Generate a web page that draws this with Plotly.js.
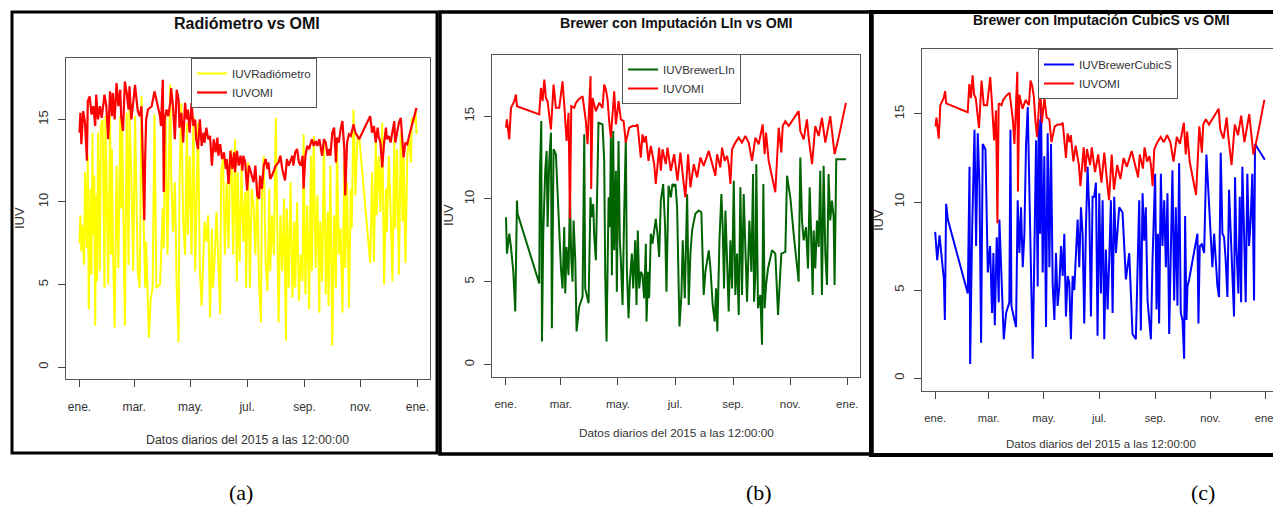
<!DOCTYPE html>
<html>
<head>
<meta charset="utf-8">
<script src="https://cdn.plot.ly/plotly-3.0.1.min.js"></script>
<style>
html,body{margin:0;padding:0;background:#fff;overflow:hidden;}
#chart{width:1290px;height:506px;}
</style>
</head>
<body>
<div id="chart"></div>
<script>
// ---------- DATA (day of year 2015, 0 = 1 Jan) ----------
const monthLabels = ['ene.','mar.','may.','jul.','sep.','nov.','ene.'];
const monthDays   = [0,59,120,181,243,304,365];
const yTicks = [0,5,10,15];

// Panel (a): OMI
const omiADays = [0,1,2,4,6,8,9,11,13,15,
 17,18,20,22,24,27,29,31,33,35,
 36,38,40,42,44,45,47,49,51,53,
 54,56,58,60,62,63,65,67,68,69,
 70,71,72,74,78,81,84,87,88,90,
 91,92,94,96,98,99,101,103,105,107,
 108,110,112,114,116,117,119,121,123,125,
 126,128,130,132,134,135,137,139,141,143,
 145,147,149,150,152,154,156,158,159,161,
 163,165,167,168,170,172,174,176,177,179,
 181,183,186,188,190,192,194,195,197,199,
 201,203,204,206,208,212,215,217,219,222,
 224,226,230,231,233,235,237,239,241,242,
 244,246,248,250,251,253,255,257,259,260,
 262,264,266,268,269,271,273,275,277,278,
 280,282,284,286,287,289,291,293,295,296,
 298,302,314,316,318,320,322,323,325,327,
 329,331,332,334,336,338,340,341,343,345,
 347,349,350,352,354,356,359,364];
const omiAVals = [14.2,15.4,13.5,15.5,14.8,12.5,16.1,16.4,15.3,15.8,
 14.6,16.5,15.0,15.8,15.1,16.5,15.8,13.8,16.7,15.2,
 16.6,15.0,17.2,15.8,16.8,15.2,14.3,17.3,16.6,15.6,
 17.0,15.0,16.0,17.1,16.0,15.5,15.2,15.8,13.4,10.6,
 8.9,12.8,15.0,15.6,15.8,16.7,16.0,15.2,14.6,17.4,
 10.6,15.0,15.6,15.2,16.0,16.9,15.8,13.8,16.8,16.2,
 14.5,15.4,13.6,16.0,15.0,15.6,14.2,16.0,14.6,15.0,
 13.8,13.2,15.0,13.4,14.2,13.6,14.5,13.8,14.0,12.2,
 13.8,13.0,13.9,12.8,13.5,12.6,13.0,12.0,12.6,11.1,
 13.1,12.0,13.0,11.8,13.1,12.2,12.8,11.9,12.8,12.4,
 10.7,12.2,11.6,11.2,12.2,10.4,10.2,11.6,10.8,12.2,
 12.6,12.0,12.4,11.4,11.6,12.2,12.4,12.8,12.0,11.3,
 12.6,12.2,12.8,12.2,13.0,13.2,12.4,12.2,12.8,10.8,
 12.8,13.4,13.2,13.6,13.8,13.4,13.7,13.4,13.8,13.5,
 12.8,13.8,13.6,12.8,13.2,12.8,14.2,14.5,12.4,13.9,
 13.6,14.4,14.9,13.2,10.4,13.6,14.1,14.0,14.5,14.7,
 14.2,13.8,15.2,14.2,14.6,13.6,14.5,14.0,13.6,12.1,
 13.6,14.5,13.8,14.0,13.6,14.4,14.9,13.6,14.2,14.8,
 15.1,13.6,12.7,13.6,13.5,14.0,14.6,15.7];

// Panel (a): Radiómetro
const radDays = [0,1,2,3,5,6,8,9,10,12,
 13,14,15,16,17,18,19,20,22,23,
 25,27,28,30,31,33,34,35,36,38,
 40,42,44,45,46,48,49,51,53,54,
 56,58,60,62,63,65,67,69,71,72,
 74,75,77,79,81,83,87,90,91,93,
 95,96,98,99,101,103,105,107,108,110,
 112,114,116,117,119,121,123,125,126,128,
 130,132,134,135,137,139,141,143,144,146,
 148,150,152,153,155,157,159,161,162,164,
 166,168,170,171,173,175,177,179,180,182,
 184,186,188,190,192,194,196,197,199,201,
 203,205,206,208,210,212,214,215,217,219,
 221,223,224,226,228,230,232,233,235,237,
 239,241,242,244,246,248,250,251,253,255,
 257,259,260,262,264,266,268,269,271,273,
 275,277,278,280,282,284,286,287,289,291,
 293,294,296,298,300,302,314,316,318,320,
 321,323,325,327,329,331,332,334,336,338,
 340,341,343,345,347,349,350,352,354,356,
 358,359,361,363,364];
const radVals = [7.5,9.2,7.0,8.6,6.2,11.8,7.2,12.8,3.5,10.8,
 5.6,14.2,8.0,11.6,2.5,10.4,5.2,14.2,5.8,14.6,
 15.0,4.8,15.2,8.4,5.0,15.2,6.8,13.2,7.6,2.4,
 12.2,6.0,15.2,9.6,14.8,6.8,2.5,15.4,6.2,15.6,
 11.6,5.8,15.2,8.8,5.8,4.8,16.4,9.4,4.8,7.6,
 3.3,1.8,4.2,4.8,15.3,4.8,5.0,9.6,7.2,15.2,
 6.8,9.8,17.1,11.8,8.2,11.2,4.9,1.5,10.8,16.0,
 8.8,6.8,14.8,8.0,12.8,6.8,15.2,5.8,9.4,14.8,
 5.8,3.7,7.0,8.8,7.6,9.2,3.0,8.4,4.8,6.6,
 9.4,5.8,3.2,11.8,12.6,6.8,11.2,7.2,10.8,13.2,
 6.8,13.8,5.2,11.8,6.4,12.2,7.6,10.6,4.8,12.4,
 4.8,10.8,9.8,6.8,11.2,5.0,2.7,10.4,12.8,6.4,
 4.6,10.8,5.8,9.2,6.8,15.1,6.0,2.7,9.2,5.8,
 10.2,1.6,9.6,4.8,11.2,4.2,8.8,4.8,10.0,4.0,
 6.8,5.2,14.1,4.4,9.8,3.5,12.8,5.8,14.0,6.0,
 10.4,3.3,8.8,5.2,13.6,4.4,9.4,3.7,12.2,1.3,
 9.2,4.8,13.8,6.8,8.4,3.3,12.4,6.0,11.2,3.6,
 10.8,8.4,15.6,10.4,13.8,14.0,6.3,11.8,6.4,13.8,
 9.2,12.8,9.4,14.8,5.0,10.8,8.2,12.8,9.6,5.2,
 13.8,8.4,13.2,5.6,14.2,8.8,13.4,6.3,12.8,13.8,
 12.4,15.1,14.8,15.5,14.1];

// Panels (b) and (c): OMI
const omiBDays = [0.4,1.4,3.9,5.7,9.3,11.0,12.1,35.9,37.7,39.5,
 41.3,43.0,44.8,46.6,48.4,51.2,53.7,57.3,60.8,62.6,
 65.1,67.2,68.7,70.1,73.3,75.1,77.9,82.2,85.7,87.5,
 89.3,90.7,91.4,92.9,96.4,100.0,103.5,105.3,107.1,108.9,
 110.6,112.4,114.2,116.0,117.8,120.6,123.1,126.0,128.4,132.0,
 135.5,139.1,140.9,142.7,144.4,146.2,148.0,149.8,152.6,155.1,
 158.7,160.4,164.0,165.8,167.6,171.1,172.9,176.5,180.0,183.6,
 186.7,190.3,192.0,194.9,197.4,201.0,204.5,208.1,211.6,217.0,
 220.5,224.1,225.9,229.4,231.2,234.0,236.5,238.3,240.1,241.9,
 245.4,249.0,252.5,256.1,259.7,263.2,266.8,270.3,274.6,276.7,
 278.2,281.0,288.1,291.7,294.5,296.0,298.8,302.4,313.0,314.8,
 318.4,321.9,323.7,327.3,330.8,334.4,337.9,341.5,346.8,348.6,
 351.4,355.7,363.5];
const omiBVals = [14.3,14.8,13.6,15.5,15.9,16.3,15.6,15.1,16.7,15.9,
 17.2,16.1,15.9,15.0,14.2,16.9,15.5,15.5,17.1,15.7,
 13.5,15.2,8.8,15.6,15.5,15.8,16.0,16.2,14.7,13.3,
 15.4,17.4,10.6,16.1,15.3,15.8,15.5,16.9,16.6,16.0,
 14.7,13.7,15.1,16.5,14.5,15.9,14.8,14.7,13.4,14.3,
 14.4,14.4,14.5,13.3,12.5,13.9,13.4,13.8,12.3,13.2,
 12.1,10.9,13.1,11.7,13.0,12.1,13.1,11.7,12.7,11.1,
 12.8,10.9,10.1,12.7,10.7,12.1,11.3,12.5,12.0,12.9,
 12.1,11.4,12.7,11.9,13.1,12.3,12.6,12.1,10.9,13.0,
 13.4,13.7,13.4,13.8,13.4,12.3,13.7,13.3,14.5,12.7,
 14.0,12.3,10.4,14.3,12.8,14.4,14.7,14.4,15.3,14.1,
 13.6,14.8,13.7,12.1,14.4,13.8,14.9,13.4,15.0,14.2,
 12.7,13.7,15.8];

// Panel (b): Brewer, linear imputation
const linDays = [0.4,1.4,3.9,5.7,8.2,10.3,12.1,12.8,35.9,36.6,
 38.1,38.8,40.2,42.3,43.8,44.8,46.6,48.4,49.4,51.2,
 53.7,55.5,57.3,59.1,60.8,62.6,63.7,65.1,67.2,68.7,
 70.1,71.5,72.6,74.4,75.8,78.6,82.2,84.0,85.0,88.6,
 90.7,91.8,93.6,94.6,96.4,99.2,103.5,105.3,106.4,107.8,
 110.0,111.4,112.4,113.5,114.9,116.0,117.8,118.8,120.6,122.0,
 123.1,124.9,126.7,128.4,129.5,131.3,132.7,134.8,136.3,138.4,
 139.8,141.2,142.7,144.4,146.2,148.0,149.8,150.5,152.3,153.3,
 155.1,156.9,160.4,162.2,164.0,165.8,168.3,170.4,171.8,174.0,
 176.5,178.2,180.0,181.4,183.2,185.7,187.8,189.2,191.4,193.9,
 195.6,197.4,199.2,202.7,206.3,209.1,211.6,213.4,217.0,218.8,
 221.2,223.4,224.8,226.2,228.4,230.5,231.9,233.3,234.8,236.5,
 238.3,240.1,241.9,243.7,245.4,247.2,249.0,250.8,252.5,254.3,
 256.1,257.9,260.4,262.5,264.3,265.4,266.8,267.8,269.6,272.1,
 273.9,275.3,276.7,278.2,280.3,284.6,288.1,291.0,294.5,298.8,
 300.6,304.1,307.7,311.2,313.0,314.8,316.6,318.4,320.9,323.0,
 324.8,326.5,328.0,329.0,330.8,332.6,334.4,336.1,337.9,339.7,
 341.5,343.3,345.0,346.8,348.6,350.4,351.4,353.2,363.5];
const linVals = [8.9,6.7,7.9,7.1,5.6,3.2,9.9,9.1,4.9,11.5,
 14.7,1.4,7.9,11.7,12.9,8.3,12.3,14.0,2.2,13.0,
 12.7,10.3,8.1,5.8,4.6,8.3,4.3,7.1,5.4,10.3,
 6.4,5.0,8.7,6.3,2.0,3.5,4.1,13.9,4.6,3.7,
 10.1,8.9,9.7,7.8,6.3,14.6,14.5,12.3,5.4,1.4,
 10.1,8.3,13.7,5.4,14.1,6.9,11.7,4.4,13.5,7.5,
 6.3,3.6,9.3,13.6,5.8,2.8,5.0,6.7,4.6,7.5,
 3.6,8.1,4.6,5.6,5.4,4.0,7.3,2.6,5.6,4.0,
 7.9,7.3,8.8,7.9,6.5,9.9,10.9,8.3,4.4,10.8,
 10.1,10.9,10.8,10.9,9.5,2.3,4.2,7.5,4.0,10.3,
 3.6,6.7,8.1,9.1,9.3,9.2,4.2,5.6,6.9,5.8,
 3.6,2.6,4.6,2.0,7.5,10.3,8.3,4.6,9.3,6.2,
 3.2,7.5,4.6,11.1,4.2,6.7,3.0,10.7,4.2,10.3,
 6.7,3.8,8.7,5.6,11.5,3.8,5.4,12.1,3.4,4.2,
 1.2,10.9,3.4,4.8,5.8,6.9,6.7,3.0,6.7,6.8,
 11.4,10.1,7.9,5.9,5.0,12.5,8.7,7.5,8.3,5.8,
 10.7,7.5,4.2,8.1,5.8,8.7,7.1,11.7,4.2,12.0,
 6.7,4.8,11.5,8.7,9.9,8.9,4.8,12.4,12.4];

// Panel (c): Brewer, cubic spline imputation
const cubDays = [0,2.2,4.8,6.6,9.6,10.7,12.1,14.0,36.0,37.9,
 38.6,40.8,43.4,45.2,47.0,48.9,50.7,52.5,55.5,58.1,
 60.6,62.8,64.3,65.8,68.0,70.2,70.9,73.9,75.7,78.3,
 81.9,83.1,84.2,87.5,89.3,91.1,93.0,94.8,96.7,98.5,
 100.3,102.2,104.0,105.8,107.7,109.5,111.4,113.2,114.3,115.8,
 116.9,118.7,120.5,122.4,124.2,126.1,127.9,129.7,131.6,133.4,
 135.2,137.1,138.9,140.8,142.6,144.4,146.3,148.1,149.9,151.8,
 153.6,155.5,157.3,159.1,161.0,162.8,164.6,166.5,168.3,170.2,
 172.0,173.8,175.7,177.5,179.3,181.2,183.0,184.9,186.7,188.5,
 190.4,192.2,194.0,195.9,197.7,199.6,203.2,206.9,210.6,214.3,
 217.9,221.6,223.5,225.3,227.1,229.0,230.8,232.6,234.5,236.3,
 238.2,240.0,241.8,242.9,244.4,245.9,247.3,249.2,251.0,252.9,
 254.7,256.5,258.4,260.2,262.0,263.9,265.7,267.5,269.4,271.2,
 273.1,274.9,276.0,277.5,278.6,280.4,289.6,290.7,292.2,294.4,
 297.0,299.5,302.5,306.1,308.0,311.7,313.5,315.3,317.2,319.0,
 320.8,322.7,324.5,326.3,328.2,330.0,331.1,332.6,334.8,336.3,
 337.8,339.2,341.1,342.9,344.7,346.6,348.4,350.2,352.1,353.2,
 364];
const cubVals = [8.3,6.7,8.1,7.1,5.6,3.3,9.9,9.0,4.8,12.0,
 0.8,8.4,14.1,7.5,13.9,10.9,2.0,13.3,13.0,6.0,
 7.5,3.7,7.1,3.0,8.0,4.3,9.0,4.8,2.2,3.7,
 4.3,14.1,4.1,3.3,2.9,10.1,7.1,9.7,6.3,8.2,
 13.2,15.4,10.9,4.8,1.1,7.1,13.5,5.2,14.7,8.2,
 15.4,6.0,12.6,2.9,13.9,6.3,13.3,5.4,3.3,7.1,
 4.1,5.2,7.5,5.8,8.2,3.5,5.8,5.4,2.2,5.8,
 5.0,7.1,9.0,6.3,9.7,8.2,3.1,8.6,12.0,9.4,
 3.5,10.3,10.3,11.1,2.4,10.5,4.8,10.1,2.2,7.3,
 3.9,6.7,10.1,3.7,10.3,7.1,9.7,9.4,5.6,7.1,
 2.5,2.2,7.1,10.1,2.7,10.5,7.8,9.7,4.4,3.3,
 2.2,6.7,10.9,11.6,3.9,8.2,3.1,11.6,7.5,10.1,
 6.3,10.5,2.5,6.3,11.8,4.4,9.7,4.1,12.2,3.7,
 3.3,1.1,9.2,3.3,5.2,5.6,8.2,3.1,7.5,7.6,
 7.1,12.7,10.1,6.3,8.2,5.2,4.6,12.8,8.2,8.0,
 6.7,4.6,10.7,8.6,6.0,3.5,11.4,7.5,4.8,10.3,
 4.3,12.0,8.2,4.3,11.6,7.5,9.0,11.6,4.4,13.3,
 12.4];

// ---------- RENDERING ----------
const W = 1290, H = 506;
const FONT = '"Liberation Sans", Arial, sans-serif';
const px = v => v / W;
const py = v => 1 - v / H;
const toMs = d => Date.UTC(2015, 0, 1) + d * 86400000;
const xr = [-14.56, 378.56].map(toMs);

function xAxis(x0, x1, anchor, fs) {
  return {
    domain: [px(x0), px(x1)], anchor: anchor, type: 'date', range: xr,
    tickmode: 'array', tickvals: monthDays.map(toMs), ticktext: monthLabels,
    ticks: 'outside', ticklen: 7, tickwidth: 1, tickcolor: '#444',
    showline: true, mirror: true, linecolor: '#555', linewidth: 1,
    showgrid: false, zeroline: false, ticklabelstandoff: 10,
    tickfont: {family: FONT, size: fs, color: '#333'}
  };
}
function yAxis(y0, y1, anchor) {
  return {
    domain: [py(y1), py(y0)], anchor: anchor, range: [-0.72, 18.72],
    tickmode: 'array', tickvals: yTicks, ticktext: yTicks.map(String), tickangle: -90,
    ticks: 'outside', ticklen: 7, tickwidth: 1, tickcolor: '#444',
    showline: true, mirror: true, linecolor: '#555', linewidth: 1,
    showgrid: false, zeroline: false, ticklabelstandoff: 5,
    tickfont: {family: FONT, size: 13, color: '#333'}
  };
}
function leg(x, y) {
  return {x: px(x), y: py(y), xanchor: 'left', yanchor: 'top',
    bordercolor: '#555', borderwidth: 1, bgcolor: '#fff', itemwidth: 30,
    font: {family: FONT, size: 11.5, color: '#333'}, tracegroupgap: 0};
}
const line = (c, w) => ({color: c, width: w});

const traces = [
  {x: radDays.map(toMs), y: radVals, mode: 'lines', name: 'IUVRadiómetro', line: line('#FFFF00', 2), xaxis: 'x', yaxis: 'y', legend: 'legend'},
  {x: omiADays.map(toMs), y: omiAVals, mode: 'lines', name: 'IUVOMI', line: line('#FF0000', 2.2), xaxis: 'x', yaxis: 'y', legend: 'legend'},
  {x: linDays.map(toMs), y: linVals, mode: 'lines', name: 'IUVBrewerLIn', line: line('#006400', 2), xaxis: 'x2', yaxis: 'y2', legend: 'legend2'},
  {x: omiBDays.map(toMs), y: omiBVals, mode: 'lines', name: 'IUVOMI', line: line('#FF0000', 2), xaxis: 'x2', yaxis: 'y2', legend: 'legend2'},
  {x: cubDays.map(toMs), y: cubVals, mode: 'lines', name: 'IUVBrewerCubicS', line: line('#0000FF', 2), xaxis: 'x3', yaxis: 'y3', legend: 'legend3'},
  {x: omiBDays.map(toMs), y: omiBVals, mode: 'lines', name: 'IUVOMI', line: line('#FF0000', 2), xaxis: 'x3', yaxis: 'y3', legend: 'legend3'}
];

function ann(text, x, y, opts) {
  return Object.assign({text: text, x: px(x), y: py(y), xref: 'paper', yref: 'paper',
    showarrow: false, xanchor: 'center', yanchor: 'middle',
    font: {family: FONT, size: 13, color: '#333'}}, opts || {});
}
const tf = s => ({family: FONT, size: s, color: '#111'});
const af = s => ({family: FONT, size: s, color: '#333'});
const labelFont = {family: '"Liberation Serif", "Times New Roman", serif', size: 22, color: '#000'};

const annotations = [
  ann('<b>Radiómetro vs OMI</b>', 247, 24, {font: tf(16)}),
  ann('<b>Brewer con Imputación LIn vs OMI</b>', 676, 23, {font: tf(14.2)}),
  ann('<b>Brewer con Imputación CubicS vs OMI</b>', 1101, 20, {font: tf(14)}),
  ann('Datos diarios del 2015 a las 12:00:00', 247, 440, {font: af(12.3)}),
  ann('Datos diarios del 2015 a las 12:00:00', 676, 433, {font: af(11.8)}),
  ann('Datos diarios del 2015 a las 12:00:00', 1101, 444, {font: af(11.5)}),
  ann('IUV', 20, 218, {textangle: -90}),
  ann('IUV', 448, 215, {textangle: -90}),
  ann('IUV', 879, 220, {textangle: -90}),
  ann('(a)', 241, 492, {font: labelFont}),
  ann('(b)', 759, 492, {font: labelFont}),
  ann('(c)', 1203, 492, {font: labelFont})
];

function frame(x0, y0, x1, y1, w) {
  return {type: 'rect', xref: 'paper', yref: 'paper', x0: px(x0), x1: px(x1), y0: py(y1), y1: py(y0),
    line: {color: '#000', width: w}, fillcolor: 'rgba(0,0,0,0)', layer: 'above'};
}

const layout = {
  width: W, height: H, margin: {l: 0, r: 0, t: 0, b: 0},
  paper_bgcolor: '#fff', plot_bgcolor: '#fff',
  font: {family: FONT, color: '#333'},
  xaxis: xAxis(66, 430, 'y', 12), yaxis: yAxis(58, 379, 'x'),
  xaxis2: xAxis(492, 860, 'y2', 11.5), yaxis2: yAxis(54.5, 376.5, 'x2'),
  xaxis3: xAxis(922, 1278, 'y3', 11.2), yaxis3: yAxis(48.5, 390.7, 'x3'),
  legend: leg(191, 58), legend2: leg(622, 54), legend3: leg(1038, 49),
  showlegend: true,
  annotations: annotations,
  shapes: [frame(12, 12, 437, 453, 3), frame(440, 12, 872, 454, 3.5), frame(871, 12, 1310, 455, 4)]
};

Plotly.newPlot('chart', traces, layout, {staticPlot: true, displayModeBar: false});
</script>
</body>
</html>
